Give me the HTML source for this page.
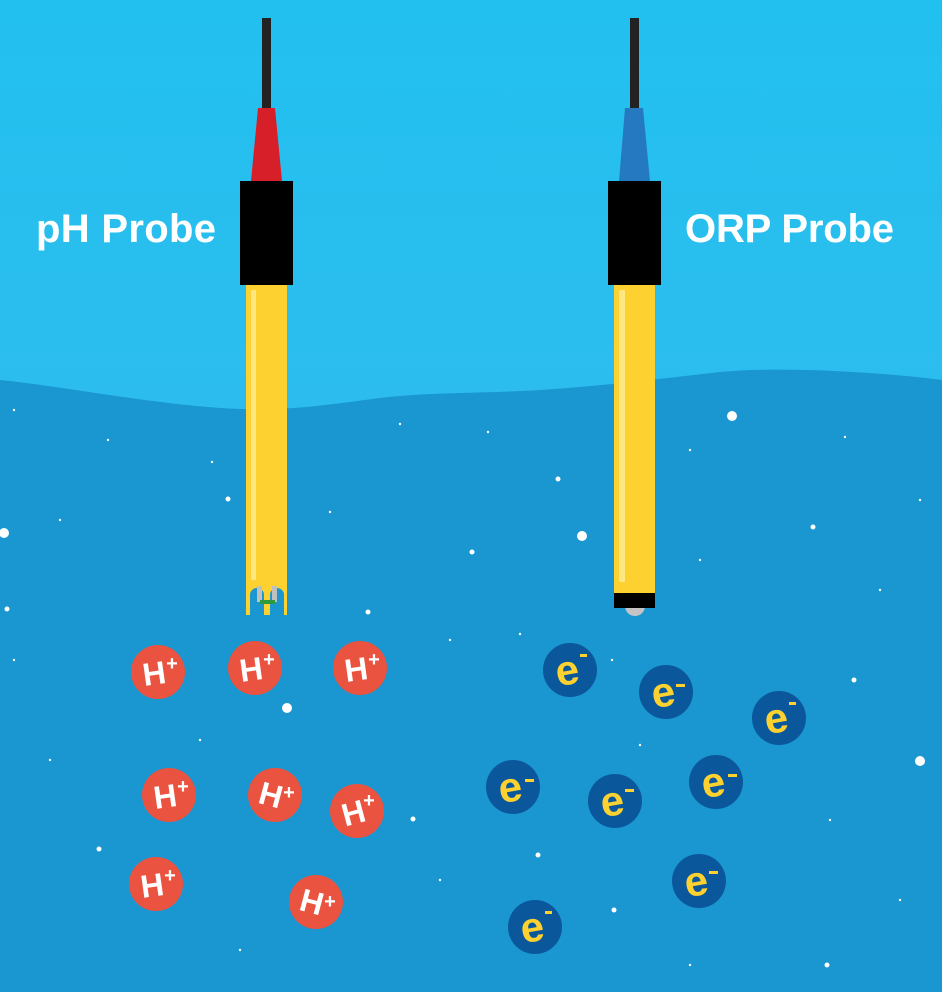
<!DOCTYPE html>
<html><head><meta charset="utf-8"><style>
html,body{margin:0;padding:0;width:942px;height:992px;overflow:hidden;background:#1a96d0}
svg{display:block}
text{font-family:"Liberation Sans",sans-serif;font-weight:bold}
</style></head><body>
<svg width="942" height="992" viewBox="0 0 942 992">
<defs><linearGradient id="sky" x1="0" y1="0" x2="0" y2="1"><stop offset="0" stop-color="#22c0ef"/><stop offset="1" stop-color="#2cbdee"/></linearGradient></defs>
<rect width="942" height="992" fill="#1a96d0"/>
<path d="M0 0H942V380C880 372 780 366 720 372C650 380 600 386 540 390C470 394 430 392 380 398C320 406 280 412 220 408C140 402 60 386 0 380Z" fill="url(#sky)"/>
<g fill="#fff">
<circle cx="4" cy="533" r="5"/><circle cx="732" cy="416" r="5"/><circle cx="582" cy="536" r="5"/><circle cx="287" cy="708" r="5"/><circle cx="920" cy="761" r="5"/>
<circle cx="228" cy="499" r="2.5"/><circle cx="472" cy="552" r="2.5"/><circle cx="558" cy="479" r="2.5"/><circle cx="813" cy="527" r="2.5"/><circle cx="7" cy="609" r="2.5"/><circle cx="368" cy="612" r="2.5"/><circle cx="854" cy="680" r="2.5"/><circle cx="413" cy="819" r="2.5"/><circle cx="99" cy="849" r="2.5"/><circle cx="538" cy="855" r="2.5"/><circle cx="614" cy="910" r="2.5"/><circle cx="827" cy="965" r="2.5"/>
<circle cx="14" cy="410" r="1.2"/><circle cx="108" cy="440" r="1.2"/><circle cx="212" cy="462" r="1.2"/><circle cx="400" cy="424" r="1.2"/><circle cx="488" cy="432" r="1.2"/><circle cx="690" cy="450" r="1.2"/><circle cx="845" cy="437" r="1.2"/><circle cx="920" cy="500" r="1.2"/><circle cx="60" cy="520" r="1.2"/><circle cx="330" cy="512" r="1.2"/><circle cx="700" cy="560" r="1.2"/><circle cx="880" cy="590" r="1.2"/><circle cx="14" cy="660" r="1.2"/><circle cx="450" cy="640" r="1.2"/><circle cx="520" cy="634" r="1.2"/><circle cx="612" cy="660" r="1.2"/><circle cx="50" cy="760" r="1.2"/><circle cx="200" cy="740" r="1.2"/><circle cx="640" cy="745" r="1.2"/><circle cx="830" cy="820" r="1.2"/><circle cx="440" cy="880" r="1.2"/><circle cx="240" cy="950" r="1.2"/><circle cx="900" cy="900" r="1.2"/><circle cx="690" cy="965" r="1.2"/>
</g>
<g>
<rect x="262" y="18" width="9" height="92" fill="#222"/>
<polygon points="258,108 275,108 282,181 251,181" fill="#d71f2a"/>
<rect x="240" y="181" width="53" height="104" fill="#000"/>
<rect x="246" y="285" width="41" height="330" fill="#fdd130"/>
<rect x="251" y="290" width="5" height="290" fill="#fee680"/>
<path d="M250 615V595a7 7 0 0 1 14 0V615ZM270 615V595a7 7 0 0 1 14 0V615Z" fill="#1a96d0"/>
<rect x="257" y="586" width="5" height="16" fill="#bfbfbf"/><rect x="272" y="586" width="5" height="16" fill="#bfbfbf"/>
<rect x="260" y="600" width="15" height="4" fill="#2f9a3c"/>
</g>
<g>
<rect x="630" y="18" width="9" height="92" fill="#222"/>
<polygon points="625,108 643,108 650,181 619,181" fill="#2579c1"/>
<circle cx="635" cy="606" r="10" fill="#c4c4c4"/>
<rect x="608" y="181" width="53" height="104" fill="#000"/>
<rect x="614" y="285" width="41" height="308" fill="#fdd130"/>
<rect x="619" y="290" width="6" height="292" fill="#fee680"/>
<rect x="614" y="593" width="41" height="15" fill="#000"/>
</g>
<text x="36" y="242" font-size="40" fill="#fff" textLength="180">pH Probe</text>
<text x="685" y="242" font-size="40" fill="#fff" textLength="209">ORP Probe</text>
<g>
<g transform="translate(158,672)"><circle r="27" fill="#ea533f"/><text x="-4" y="12" font-size="32" fill="#fff" text-anchor="middle" transform="rotate(-8)">H</text><text x="14" y="-2" font-size="20" fill="#fff" text-anchor="middle">+</text></g>
<g transform="translate(255,668)"><circle r="27" fill="#ea533f"/><text x="-4" y="12" font-size="32" fill="#fff" text-anchor="middle" transform="rotate(-8)">H</text><text x="14" y="-2" font-size="20" fill="#fff" text-anchor="middle">+</text></g>
<g transform="translate(360,668)"><circle r="27" fill="#ea533f"/><text x="-4" y="12" font-size="32" fill="#fff" text-anchor="middle" transform="rotate(-8)">H</text><text x="14" y="-2" font-size="20" fill="#fff" text-anchor="middle">+</text></g>
<g transform="translate(169,795)"><circle r="27" fill="#ea533f"/><text x="-4" y="12" font-size="32" fill="#fff" text-anchor="middle" transform="rotate(-8)">H</text><text x="14" y="-2" font-size="20" fill="#fff" text-anchor="middle">+</text></g>
<g transform="translate(275,795)"><circle r="27" fill="#ea533f"/><text x="-4" y="12" font-size="32" fill="#fff" text-anchor="middle" transform="rotate(15)">H</text><text x="14" y="4" font-size="20" fill="#fff" text-anchor="middle">+</text></g>
<g transform="translate(357,811)"><circle r="27" fill="#ea533f"/><text x="-4" y="12" font-size="32" fill="#fff" text-anchor="middle" transform="rotate(-15)">H</text><text x="12" y="-4" font-size="20" fill="#fff" text-anchor="middle">+</text></g>
<g transform="translate(156,884)"><circle r="27" fill="#ea533f"/><text x="-4" y="12" font-size="32" fill="#fff" text-anchor="middle" transform="rotate(-8)">H</text><text x="14" y="-2" font-size="20" fill="#fff" text-anchor="middle">+</text></g>
<g transform="translate(316,902)"><circle r="27" fill="#ea533f"/><text x="-4" y="12" font-size="32" fill="#fff" text-anchor="middle" transform="rotate(15)">H</text><text x="14" y="6" font-size="20" fill="#fff" text-anchor="middle">+</text></g>
</g>
<g>
<g transform="translate(570,670)"><circle r="27" fill="#0b579b"/><text x="-3" y="14" font-size="42" fill="#fdd130" text-anchor="middle" transform="rotate(-10)">e</text><rect x="10" y="-16" width="7" height="3" fill="#fdd130"/></g>
<g transform="translate(666,692)"><circle r="27" fill="#0b579b"/><text x="-3" y="14" font-size="42" fill="#fdd130" text-anchor="middle" transform="rotate(-10)">e</text><rect x="10" y="-8" width="9" height="3" fill="#fdd130"/></g>
<g transform="translate(779,718)"><circle r="27" fill="#0b579b"/><text x="-3" y="14" font-size="42" fill="#fdd130" text-anchor="middle" transform="rotate(-10)">e</text><rect x="10" y="-16" width="7" height="3" fill="#fdd130"/></g>
<g transform="translate(513,787)"><circle r="27" fill="#0b579b"/><text x="-3" y="14" font-size="42" fill="#fdd130" text-anchor="middle" transform="rotate(-10)">e</text><rect x="12" y="-8" width="9" height="3" fill="#fdd130"/></g>
<g transform="translate(615,801)"><circle r="27" fill="#0b579b"/><text x="-3" y="14" font-size="42" fill="#fdd130" text-anchor="middle" transform="rotate(-10)">e</text><rect x="10" y="-12" width="9" height="3" fill="#fdd130"/></g>
<g transform="translate(716,782)"><circle r="27" fill="#0b579b"/><text x="-3" y="14" font-size="42" fill="#fdd130" text-anchor="middle" transform="rotate(-10)">e</text><rect x="12" y="-8" width="9" height="3" fill="#fdd130"/></g>
<g transform="translate(699,881)"><circle r="27" fill="#0b579b"/><text x="-3" y="14" font-size="42" fill="#fdd130" text-anchor="middle" transform="rotate(-10)">e</text><rect x="10" y="-10" width="9" height="3" fill="#fdd130"/></g>
<g transform="translate(535,927)"><circle r="27" fill="#0b579b"/><text x="-3" y="14" font-size="42" fill="#fdd130" text-anchor="middle" transform="rotate(-10)">e</text><rect x="10" y="-16" width="7" height="3" fill="#fdd130"/></g>
</g>
</svg>
</body></html>
